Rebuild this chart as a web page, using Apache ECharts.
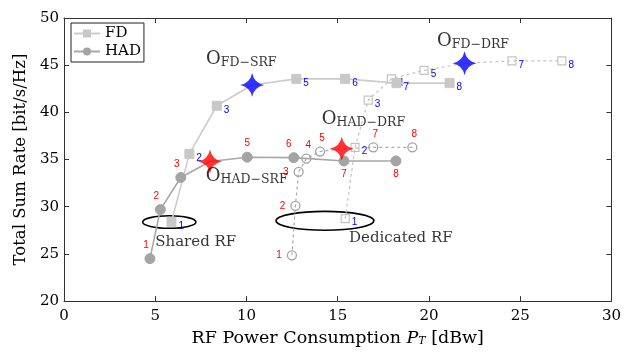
<!DOCTYPE html>
<html>
<head>
<meta charset="utf-8">
<script src="https://cdn.jsdelivr.net/npm/echarts@6/dist/echarts.min.js"></script>
<style>html,body{margin:0;padding:0;background:#fff;}#c{width:624px;height:352px;}</style>
</head>
<body>
<div id="c"></div>
<script>
// ---- data ----
const pointLabels = ['1','2','3','4','5','6','7','8'];
const xTicks = [0, 5, 10, 15, 20, 25, 30];
const yTicks = [20, 25, 30, 35, 40, 45, 50];

const fdSrfX  = [5.89, 6.87, 8.37, 10.31, 12.73, 15.41, 18.22, 21.13];
const fdSrfY  = [28.4, 35.6, 40.7, 42.9, 43.55, 43.55, 43.1, 43.1];
const hadSrfX = [4.71, 5.28, 6.40, 8.00, 10.04, 12.59, 15.34, 18.19];
const hadSrfY = [24.5, 29.7, 33.1, 34.8, 35.25, 35.2, 34.85, 34.85];
const fdDrfX  = [15.41, 15.95, 16.67, 17.94, 19.73, 21.95, 24.55, 27.28];
const fdDrfY  = [28.75, 36.3, 41.3, 43.55, 44.45, 45.2, 45.45, 45.45];
const hadDrfX = [12.49, 12.68, 12.86, 13.28, 14.03, 15.22, 16.95, 19.09];
const hadDrfY = [24.85, 30.1, 33.7, 35.1, 35.85, 36.15, 36.3, 36.3];

// index of the optimum (star) in each series
const optFdSrf = 3, optHadSrf = 3, optFdDrf = 5, optHadDrf = 5;

// annotations: [x, y, main, sub]
const optNames = [
  [7.78, 45.6, 'O', 'FD−SRF'],
  [20.44, 47.5, 'O', 'FD−DRF'],
  [14.13, 39.3, 'O', 'HAD−DRF'],
  [7.77, 33.26, 'O', 'HAD−SRF']
];
// ellipses: [cx, cy, rx, ry]
const ellipses = [[5.77, 28.38, 1.46, 0.66], [14.3, 28.51, 2.68, 1.0]];
const groupTexts = [[5.0, 26.28, 'Shared RF'], [15.62, 26.63, 'Dedicated RF']];

// ---- chart ----
const SERIF = 'DejaVu Serif';
const SANS = 'Liberation Sans';
const INK = '#000';
const BLUE = '#0000ff', RED = '#ff0000';
const STAR = 'path://M0,-12 Q2,-2 12,0 Q2,2 0,12 Q-2,2 -12,0 Q-2,-2 0,-12 Z';
const numFmt = (p) => pointLabels[p.dataIndex];

function pts(xs, ys, opt, labelFn) {
  return xs.map((x, i) => {
    const d = { value: [x, ys[i]], label: labelFn(i) };
    if (i === opt) d.symbol = 'none';
    return d;
  });
}

const blueLbl = () => ({ show: true, formatter: numFmt, position: 'right', distance: 2, offset: [0, 4], color: BLUE, fontFamily: SANS, fontSize: 10 });
const hadSrfLbl = (i) => i >= 6
  ? { show: true, formatter: numFmt, position: 'bottom', distance: 3, color: RED, fontFamily: SANS, fontSize: 10 }
  : { show: true, formatter: numFmt, position: 'top', distance: 3, offset: [i === 5 ? -5 : (i < 3 ? -4 : 0), 0], color: RED, fontFamily: SANS, fontSize: 10 };
const hadDrfLbl = (i) => i <= 2
  ? { show: true, formatter: numFmt, position: 'left', distance: 5, color: RED, fontFamily: SANS, fontSize: 10 }
  : { show: true, formatter: numFmt, position: 'top', distance: 3, offset: [2, 0], color: RED, fontFamily: SANS, fontSize: 10 };

const axisCommon = {
  type: 'value', splitLine: { show: false },
  axisLine: { onZero: false, lineStyle: { color: '#333', width: 1 } },
  axisTick: { inside: true, length: 5, lineStyle: { color: '#333' } }
};

const option = {
  animation: false,
  backgroundColor: '#fff',
  grid: { left: 64, right: 10, top: 18, bottom: 48 },
  legend: {
    data: ['FD', 'HAD'],
    left: 71, top: 23, orient: 'vertical',
    padding: [3, 3, 3, 2], itemGap: 3, itemWidth: 26, itemHeight: 10,
    borderColor: '#222', borderWidth: 1, backgroundColor: '#fff',
    textStyle: { fontFamily: SERIF, fontSize: 15, color: INK }
  },
  xAxis: [
    Object.assign({}, axisCommon, {
      min: xTicks[0], max: xTicks[xTicks.length - 1], interval: 5, position: 'bottom',
      axisLabel: { fontFamily: SERIF, fontSize: 15, color: INK, margin: 8 },
      name: '{n|RF Power Consumption }{i|P}{s|T}{n| [dBw]}',
      nameLocation: 'middle', nameGap: 27,
      nameTextStyle: {
        rich: {
          n: { fontFamily: SERIF, fontSize: 17.5, color: INK },
          i: { fontFamily: SERIF, fontStyle: 'italic', fontSize: 17.5, color: INK },
          s: { fontFamily: SERIF, fontStyle: 'italic', fontSize: 11, color: INK, verticalAlign: 'bottom', lineHeight: 10 }
        }
      }
    }),
    Object.assign({}, axisCommon, {
      min: xTicks[0], max: xTicks[xTicks.length - 1], interval: 5, position: 'top',
      axisLabel: { show: false }
    })
  ],
  yAxis: [
    Object.assign({}, axisCommon, {
      min: yTicks[0], max: yTicks[yTicks.length - 1], interval: 5, position: 'left',
      axisLabel: { fontFamily: SERIF, fontSize: 15, color: INK, margin: 5 },
      name: 'Total Sum Rate [bit/s/Hz]', nameLocation: 'middle', nameGap: 34,
      nameTextStyle: { fontFamily: SERIF, fontSize: 16.5, color: INK }
    }),
    Object.assign({}, axisCommon, {
      min: yTicks[0], max: yTicks[yTicks.length - 1], interval: 5, position: 'right',
      axisLabel: { show: false }
    })
  ],
  series: [
    {
      type: 'custom', name: 'ellipses', z: 1, silent: true,
      data: ellipses,
      renderItem: (params, api) => {
        const c = api.coord([api.value(0), api.value(1)]);
        const s = api.size([api.value(2), api.value(3)]);
        return { type: 'ellipse', shape: { cx: c[0], cy: c[1], rx: s[0], ry: s[1] },
                 style: { fill: 'none', stroke: '#000', lineWidth: 1.6 } };
      }
    },
    {
      name: 'FD-DRF', type: 'line', z: 2,
      data: pts(fdDrfX, fdDrfY, optFdDrf, blueLbl),
      lineStyle: { color: '#c4c4c4', width: 1.2, type: [3, 3] },
      symbol: 'rect', symbolSize: 8,
      itemStyle: { color: 'rgba(0,0,0,0)', borderColor: '#c4c4c4', borderWidth: 1.2 }
    },
    {
      name: 'HAD-DRF', type: 'line', z: 2,
      data: pts(hadDrfX, hadDrfY, optHadDrf, hadDrfLbl),
      lineStyle: { color: '#aaaaaa', width: 1.2, type: [3, 3] },
      symbol: 'circle', symbolSize: 9,
      itemStyle: { color: 'rgba(0,0,0,0)', borderColor: '#a4a4a4', borderWidth: 1.3 }
    },
    {
      name: 'FD', type: 'line', z: 3,
      data: pts(fdSrfX, fdSrfY, optFdSrf, blueLbl),
      lineStyle: { color: '#cccccc', width: 1.6 },
      symbol: 'rect', symbolSize: 9,
      itemStyle: { color: '#c8c8c8', borderColor: '#c8c8c8' }
    },
    {
      name: 'HAD', type: 'line', z: 3,
      data: pts(hadSrfX, hadSrfY, optHadSrf, hadSrfLbl),
      lineStyle: { color: '#a8a8a8', width: 1.6 },
      symbol: 'circle', symbolSize: 10,
      itemStyle: { color: '#a4a4a4', borderColor: '#a4a4a4' }
    },
    {
      name: 'optima', type: 'scatter', z: 5, silent: true,
      symbol: STAR, symbolSize: 24,
      data: [
        { value: [fdSrfX[optFdSrf], fdSrfY[optFdSrf]], itemStyle: { color: BLUE } },
        { value: [fdDrfX[optFdDrf], fdDrfY[optFdDrf]], itemStyle: { color: BLUE } },
        { value: [hadSrfX[optHadSrf], hadSrfY[optHadSrf]], itemStyle: { color: RED } },
        { value: [hadDrfX[optHadDrf], hadDrfY[optHadDrf]], itemStyle: { color: RED } }
      ]
    },
    {
      name: 'optNames', type: 'scatter', z: 6, silent: true, symbolSize: 0,
      data: optNames.map(a => ({ value: [a[0], a[1]], main: a[2], sub: a[3] })),
      label: {
        show: true, position: 'right', distance: 0,
        formatter: (p) => '{o|' + p.data.main + '}{s|' + p.data.sub + '}',
        rich: {
          o: { fontFamily: SERIF, fontSize: 18, lineHeight: 20, color: INK },
          s: { fontFamily: SERIF, fontSize: 12.5, lineHeight: 12, verticalAlign: 'bottom', color: INK }
        }
      }
    },
    {
      name: 'groupTexts', type: 'scatter', z: 6, silent: true, symbolSize: 0,
      data: groupTexts.map(a => ({ value: [a[0], a[1]], txt: a[2] })),
      label: {
        show: true, position: 'right', distance: 0,
        formatter: (p) => p.data.txt,
        fontFamily: SERIF, fontSize: 15, color: INK
      }
    }
  ]
};

const chart = echarts.init(document.getElementById('c'), null, { renderer: 'canvas' });
chart.setOption(option);
</script>
</body>
</html>
